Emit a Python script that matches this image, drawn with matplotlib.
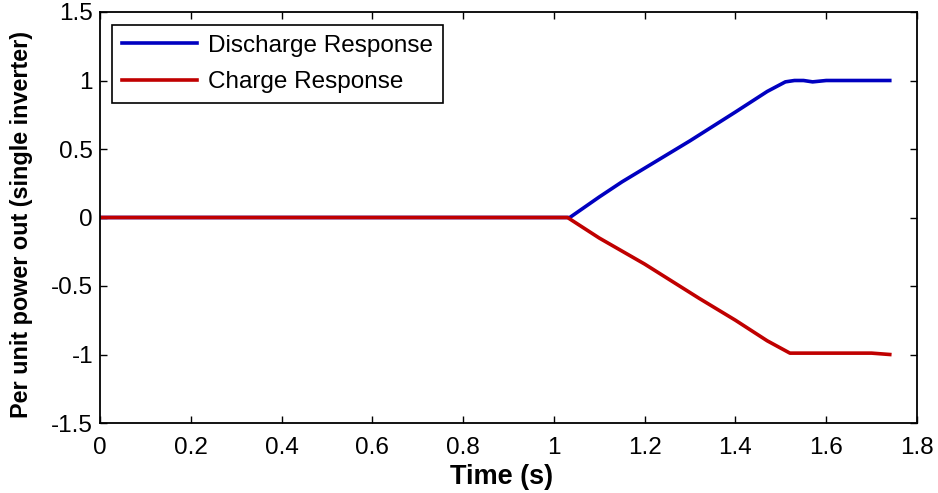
import matplotlib
matplotlib.use("Agg")
import matplotlib.pyplot as plt

plt.rcParams['font.family'] = ['Liberation Sans', 'DejaVu Sans']

# Data
t_discharge = [0.0, 1.035, 1.10, 1.15, 1.20, 1.30, 1.40, 1.47, 1.51, 1.53, 1.55, 1.57, 1.60, 1.74]
p_discharge = [0.0, 0.0, 0.15, 0.26, 0.36, 0.56, 0.77, 0.92, 0.99, 1.00, 1.00, 0.99, 1.00, 1.00]

t_charge = [0.0, 1.03, 1.10, 1.20, 1.32, 1.40, 1.47, 1.52, 1.60, 1.70, 1.74]
p_charge = [0.0, 0.0, -0.15, -0.34, -0.59, -0.75, -0.90, -0.99, -0.99, -0.99, -1.00]

series_names = ["Discharge Response", "Charge Response"]
x_ticks = [0, 0.2, 0.4, 0.6, 0.8, 1, 1.2, 1.4, 1.6, 1.8]
y_ticks = [-1.5, -1, -0.5, 0, 0.5, 1, 1.5]

fig = plt.figure(figsize=(9.38, 4.93), dpi=100)
ax = fig.add_axes([100/938, 1 - 423/493, (917-100)/938, (423-12)/493])

ax.plot(t_discharge, p_discharge, color='#0000C0', lw=2.6, label=series_names[0])
ax.plot(t_charge, p_charge, color='#C00000', lw=2.6, label=series_names[1])

ax.set_xlim(0, 1.8)
ax.set_ylim(-1.5, 1.5)
ax.set_xticks(x_ticks)
ax.set_xticklabels(['0', '0.2', '0.4', '0.6', '0.8', '1', '1.2', '1.4', '1.6', '1.8'])
ax.set_yticks(y_ticks)
ax.set_yticklabels(['-1.5', '-1', '-0.5', '0', '0.5', '1', '1.5'])
ax.tick_params(direction='in', top=True, right=True, length=5, width=1,
               labelsize=17.5)
ax.tick_params(axis='x', pad=10)
ax.tick_params(axis='y', pad=5)
for s in ax.spines.values():
    s.set_linewidth(1.3)

ax.set_xlabel('Time (s)', fontsize=19.5, fontweight='bold')
ax.xaxis.set_label_coords((502-100)/817, -(464-423)/411)
ax.set_ylabel('Per unit power out (single inverter)', fontsize=16.8, fontweight='bold')
ax.yaxis.set_label_coords(-(100-33)/817, (423-225)/411)

leg = ax.legend(loc='upper left', bbox_to_anchor=(12/817, (423-25)/411), fontsize=17.5,
                frameon=True, fancybox=False, edgecolor='black', framealpha=1,
                handlelength=3.1, handletextpad=0.45, borderpad=0.4, labelspacing=0.6,
                borderaxespad=0.0)
leg.get_frame().set_linewidth(1.2)

fig.savefig('out.png', dpi=100)
